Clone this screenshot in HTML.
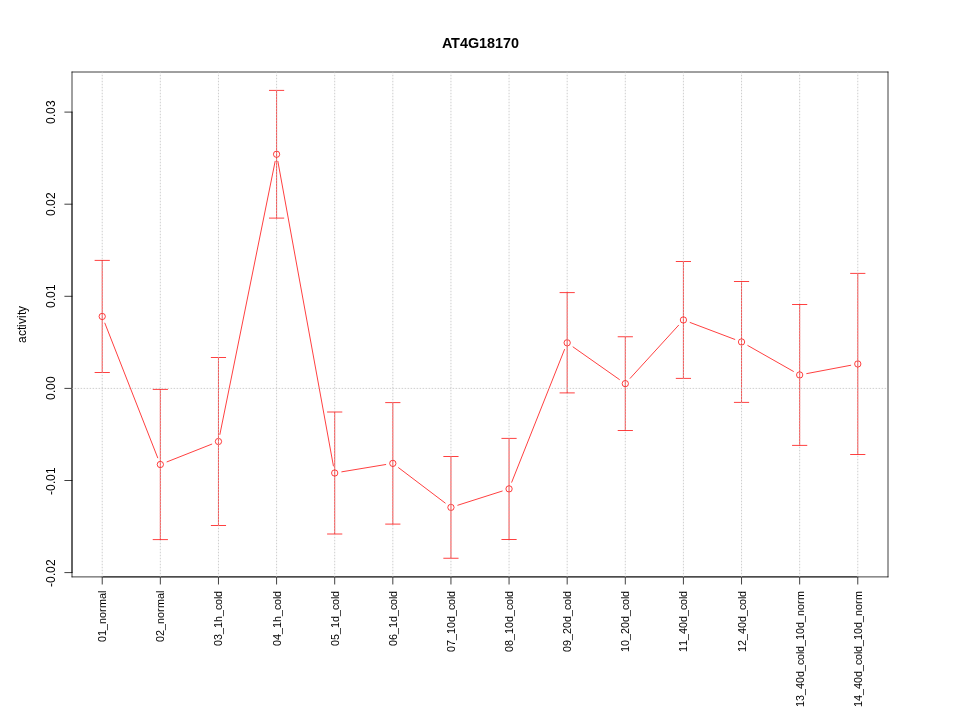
<!DOCTYPE html>
<html lang="en">
<head>
<meta charset="utf-8">
<title>AT4G18170</title>
<style>
html,body{margin:0;padding:0;background:#fff;}
body{width:960px;height:720px;overflow:hidden;}
svg{display:block;will-change:transform;}
text{font-family:"Liberation Sans",Arial,Helvetica,sans-serif;fill:#000;}
</style>
</head>
<body>
<svg width="960" height="720" viewBox="0 0 960 720">
<rect x="0" y="0" width="960" height="720" fill="#fff"/>
<g fill="none" stroke="#ff0000" stroke-width="0.75" stroke-linecap="round" stroke-linejoin="round">
<line x1="104.85" y1="323.15" x2="157.71" y2="457.8"/>
<line x1="167.03" y1="461.85" x2="211.77" y2="444.15"/>
<line x1="219.89" y1="434.44" x2="275.15" y2="161.31"/>
<line x1="277.87" y1="161.33" x2="333.41" y2="465.92"/>
<line x1="341.8" y1="471.82" x2="385.72" y2="464.53"/>
<line x1="398.56" y1="467.7" x2="445.2" y2="503.05"/>
<line x1="457.8" y1="505.22" x2="502.2" y2="491.08"/>
<line x1="511.72" y1="482.21" x2="564.52" y2="349.49"/>
<line x1="573.07" y1="346.94" x2="619.41" y2="379.51"/>
<line x1="630.15" y1="378.33" x2="678.57" y2="325.27"/>
<line x1="690.15" y1="322.5" x2="734.81" y2="339.4"/>
<line x1="747.8" y1="345.51" x2="793.4" y2="371.39"/>
<line x1="806.73" y1="373.61" x2="850.71" y2="365.29"/>
</g>
<g fill="none" stroke="#ff0000" stroke-width="0.75">
<circle cx="102.22" cy="316.45" r="3.15"/>
<circle cx="160.34" cy="464.5" r="3.15"/>
<circle cx="218.46" cy="441.5" r="3.15"/>
<circle cx="276.58" cy="154.25" r="3.15"/>
<circle cx="334.7" cy="473" r="3.15"/>
<circle cx="392.82" cy="463.35" r="3.15"/>
<circle cx="450.94" cy="507.4" r="3.15"/>
<circle cx="509.06" cy="488.9" r="3.15"/>
<circle cx="567.18" cy="342.8" r="3.15"/>
<circle cx="625.3" cy="383.65" r="3.15"/>
<circle cx="683.42" cy="319.95" r="3.15"/>
<circle cx="741.54" cy="341.95" r="3.15"/>
<circle cx="799.66" cy="374.95" r="3.15"/>
<circle cx="857.78" cy="363.95" r="3.15"/>
</g>
<g fill="none" stroke="#ff0000" stroke-width="0.75" stroke-linecap="round" stroke-linejoin="round">
<path d="M102.22 260.4V372.5M95.02 260.4H109.42M95.02 372.5H109.42"/>
<path d="M160.34 389.4V539.6M153.14 389.4H167.54M153.14 539.6H167.54"/>
<path d="M218.46 357.5V525.5M211.26 357.5H225.66M211.26 525.5H225.66"/>
<path d="M276.58 90.4V218.1M269.38 90.4H283.78M269.38 218.1H283.78"/>
<path d="M334.7 412V534M327.5 412H341.9M327.5 534H341.9"/>
<path d="M392.82 402.6V524.1M385.62 402.6H400.02M385.62 524.1H400.02"/>
<path d="M450.94 456.5V558.25M443.74 456.5H458.14M443.74 558.25H458.14"/>
<path d="M509.06 438.4V539.5M501.86 438.4H516.26M501.86 539.5H516.26"/>
<path d="M567.18 292.6V392.9M559.98 292.6H574.38M559.98 392.9H574.38"/>
<path d="M625.3 336.75V430.5M618.1 336.75H632.5M618.1 430.5H632.5"/>
<path d="M683.42 261.5V378.4M676.22 261.5H690.62M676.22 378.4H690.62"/>
<path d="M741.54 281.5V402.4M734.34 281.5H748.74M734.34 402.4H748.74"/>
<path d="M799.66 304.5V445.4M792.46 304.5H806.86M792.46 445.4H806.86"/>
<path d="M857.78 273.4V454.5M850.58 273.4H864.98M850.58 454.5H864.98"/>
</g>
<g fill="none" stroke="#000" stroke-width="0.75" stroke-linecap="round" stroke-linejoin="round">
<path d="M102.22 576.9H857.78M102.22 576.9v7.2M160.34 576.9v7.2M218.46 576.9v7.2M276.58 576.9v7.2M334.7 576.9v7.2M392.82 576.9v7.2M450.94 576.9v7.2M509.06 576.9v7.2M567.18 576.9v7.2M625.3 576.9v7.2M683.42 576.9v7.2M741.54 576.9v7.2M799.66 576.9v7.2M857.78 576.9v7.2"/>
<path d="M72 572.6V112.1M72 572.6h-7.2M72 480.5h-7.2M72 388.4h-7.2M72 296.3h-7.2M72 204.2h-7.2M72 112.1h-7.2"/>
<path d="M72 72H888"/>
<path d="M888 72V576.9"/>
<path d="M888 576.9H72"/>
<path d="M72 576.9V72"/>
</g>
<g fill="none" stroke="#bebebe" stroke-width="0.75" stroke-linecap="round" stroke-dasharray="0.75 2.25">
<line x1="102.22" y1="576.9" x2="102.22" y2="72"/>
<line x1="160.34" y1="576.9" x2="160.34" y2="72"/>
<line x1="218.46" y1="576.9" x2="218.46" y2="72"/>
<line x1="276.58" y1="576.9" x2="276.58" y2="72"/>
<line x1="334.7" y1="576.9" x2="334.7" y2="72"/>
<line x1="392.82" y1="576.9" x2="392.82" y2="72"/>
<line x1="450.94" y1="576.9" x2="450.94" y2="72"/>
<line x1="509.06" y1="576.9" x2="509.06" y2="72"/>
<line x1="567.18" y1="576.9" x2="567.18" y2="72"/>
<line x1="625.3" y1="576.9" x2="625.3" y2="72"/>
<line x1="683.42" y1="576.9" x2="683.42" y2="72"/>
<line x1="741.54" y1="576.9" x2="741.54" y2="72"/>
<line x1="799.66" y1="576.9" x2="799.66" y2="72"/>
<line x1="857.78" y1="576.9" x2="857.78" y2="72"/>
<line x1="72" y1="388.4" x2="888" y2="388.4"/>
</g>
<text y="48" x="442 451 460 468 479 487 495 503 511" font-size="14.4" font-weight="bold">AT4G18170</text>
<text transform="translate(26 343) rotate(-90)" x="0 7 13 16 19 25 28 31" font-size="12">activity</text>
<g font-size="12">
<text transform="translate(55 587) rotate(-90)" x="0 4 11 14 21">-0.02</text>
<text transform="translate(55 495) rotate(-90)" x="0 4 11 14 21">-0.01</text>
<text transform="translate(55 400) rotate(-90)" x="0 7 10 17">0.00</text>
<text transform="translate(55 308) rotate(-90)" x="0 7 10 17">0.01</text>
<text transform="translate(55 216) rotate(-90)" x="0 7 10 17">0.02</text>
<text transform="translate(55 124) rotate(-90)" x="0 7 10 17">0.03</text>
</g>
<g font-size="10.8">
<text transform="translate(106 642) rotate(-90)" x="0 6 12 18 24 30 34 43 49">01_normal</text>
<text transform="translate(164 642) rotate(-90)" x="0 6 12 18 24 30 34 43 49">02_normal</text>
<text transform="translate(222 646) rotate(-90)" x="0 6 12 18 24 30 36 41 47 49">03_1h_cold</text>
<text transform="translate(281 646) rotate(-90)" x="0 6 12 18 24 30 36 41 47 49">04_1h_cold</text>
<text transform="translate(339 646) rotate(-90)" x="0 6 12 18 24 30 36 41 47 49">05_1d_cold</text>
<text transform="translate(397 646) rotate(-90)" x="0 6 12 18 24 30 36 41 47 49">06_1d_cold</text>
<text transform="translate(455 652) rotate(-90)" x="0 6 12 18 24 30 36 42 47 53 55">07_10d_cold</text>
<text transform="translate(513 652) rotate(-90)" x="0 6 12 18 24 30 36 42 47 53 55">08_10d_cold</text>
<text transform="translate(571 652) rotate(-90)" x="0 6 12 18 24 30 36 42 47 53 55">09_20d_cold</text>
<text transform="translate(629 652) rotate(-90)" x="0 6 12 18 24 30 36 42 47 53 55">10_20d_cold</text>
<text transform="translate(687 652) rotate(-90)" x="0 6 12 18 24 30 36 42 47 53 55">11_40d_cold</text>
<text transform="translate(746 652) rotate(-90)" x="0 6 12 18 24 30 36 42 47 53 55">12_40d_cold</text>
<text transform="translate(804 707) rotate(-90)" x="0 6 12 18 24 30 36 42 47 53 55 61 67 73 79 85 91 97 103 107">13_40d_cold_10d_norm</text>
<text transform="translate(862 707) rotate(-90)" x="0 6 12 18 24 30 36 42 47 53 55 61 67 73 79 85 91 97 103 107">14_40d_cold_10d_norm</text>
</g>
</svg>
</body>
</html>
